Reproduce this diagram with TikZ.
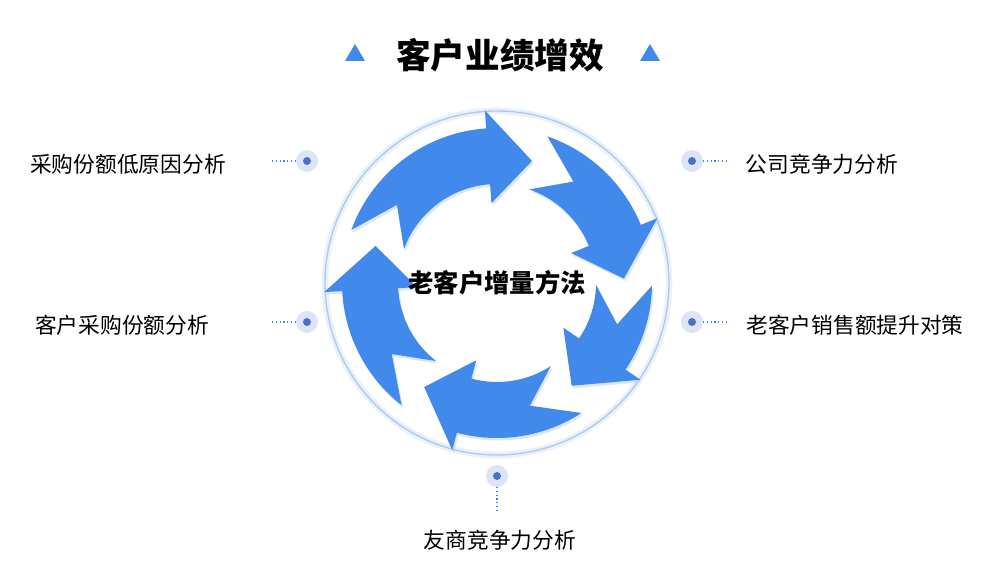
\documentclass[tikz,border=0pt]{standalone}
\usepackage{fontspec}
\setmainfont{Noto Sans CJK SC}
\usetikzlibrary{positioning}
\definecolor{ringblue}{HTML}{4189EA}
\definecolor{dotblue}{HTML}{4A72C8}
\definecolor{halo}{HTML}{DCE4F5}

\begin{document}
\begin{tikzpicture}[x=0.75pt,y=0.75pt,
    label/.style={font=\fontsize{16.3}{19}\selectfont, text=black},
    marker/.style={circle, fill=halo, minimum size=16.5pt, inner sep=0pt},
    pin/.style={circle, fill=dotblue, minimum size=6pt, inner sep=0pt},
    leader/.style={dotted, thick, ringblue},
    tri/.style={fill=ringblue}
]
\useasboundingbox (0,0) rectangle (1000,578);

% Title
\node[font=\fontsize{26}{30}\selectfont\bfseries] (title) at (500,523) {客户业绩增效};
\fill[tri] (345,517) -- (365,517) -- (355,534) -- cycle;
\fill[tri] (640,517) -- (660,517) -- (650,534) -- cycle;

% Ring
\coordinate (c) at (497,295);
\begin{scope}[shift={(c)}]
  \fill[white] (0,0) circle (173);
  \draw[halo!80!ringblue, line width=5pt, opacity=0.3] (0,0) circle (172);
  \draw[halo!70!ringblue, line width=1pt] (0,0) circle (172);
  \foreach \s/\t in {160/74, 71/2, -1/-54, -57/-125, 232/163}{
    \pgfmathsetmacro{\h}{\t+20}
    \pgfmathsetmacro{\n}{\s-18}
    \fill[halo!70!ringblue, opacity=0.45, shift={(1.5,-2.5)}]
      (\s:155) arc[start angle=\s, end angle=\h, radius=155] -- (\h:173)
      -- (\t:127) -- (\h:80) -- (\h:99)
      arc[start angle=\h, end angle=\s, radius=99] -- (\n:127) -- cycle;
    \fill[ringblue]
      (\s:155) arc[start angle=\s, end angle=\h, radius=155] -- (\h:173)
      -- (\t:127) -- (\h:80) -- (\h:99)
      arc[start angle=\h, end angle=\s, radius=99] -- (\n:127) -- cycle;
  }
\end{scope}
\node[font=\fontsize{19}{22}\selectfont\bfseries] (hub) at (c) {老客户增量方法};

% Markers
\node[marker] (m1) at (307,417) {}; \node[pin] at (m1) {};
\node[marker] (m2) at (307,256) {}; \node[pin] at (m2) {};
\node[marker] (m3) at (692,417) {}; \node[pin] at (m3) {};
\node[marker] (m4) at (692,256) {}; \node[pin] at (m4) {};
\node[marker] (m5) at (497,102) {}; \node[pin] at (m5) {};

% Labels
\node[label] (l1) at (128,414) {采购份额低原因分析};
\node[label] (l2) at (122,253) {客户采购份额分析};
\node[label] (l3) at (822,414) {公司竞争力分析};
\node[label] (l4) at (855,253) {老客户销售额提升对策};
\node[label] (l5) at (500,38) {友商竞争力分析};

% Leaders
\coordinate (e1) at (272,417);
\coordinate (e2) at (272,256);
\coordinate (e3) at (727,417);
\coordinate (e4) at (727,256);
\coordinate (e5) at (497,68);
\draw[leader] (m1.west) -- (e1);
\draw[leader] (m2.west) -- (e2);
\draw[leader] (m3.east) -- (e3);
\draw[leader] (m4.east) -- (e4);
\draw[leader] (m5.south) -- (e5);

\end{tikzpicture}
\end{document}
